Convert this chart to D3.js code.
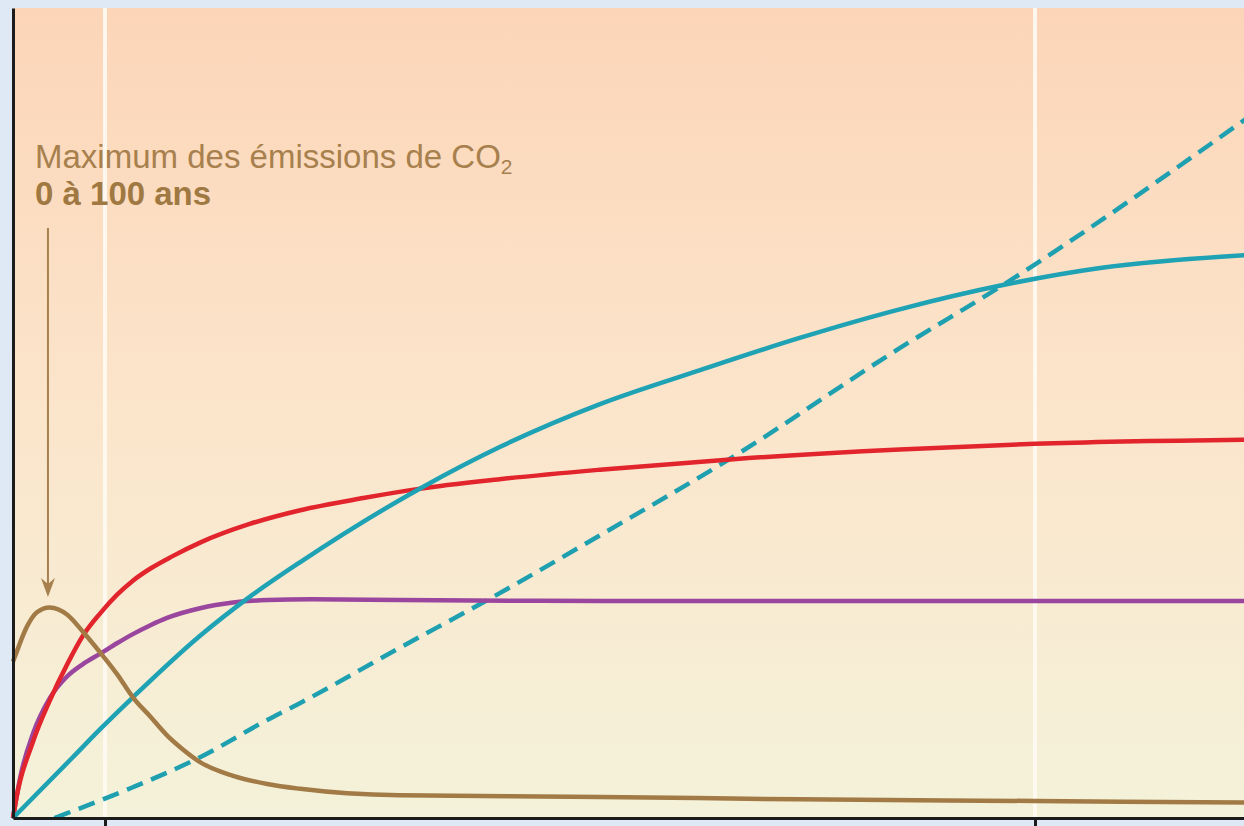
<!DOCTYPE html>
<html>
<head>
<meta charset="utf-8">
<script src="https://cdn.jsdelivr.net/npm/d3@7"></script>
<style>
  html, body { margin: 0; padding: 0; background: #dfe9f6; }
  svg { display: block; }
</style>
</head>
<body>
<div id="chart"></div>
<script>
// Données : [temps (ans), valeur relative]
var emissionsCO2 = [[0,19.3],[2,19.9],[15,23.6],[26,25.4],[40,26.0],[59,25.1],[76,23.0],[95,20.4],[112,17.7],[127,14.9],[144,12.5],[160,10.2],[176,8.4],[192,6.9],[224,5.2],[257,4.2],[289,3.6],[385,2.8],[579,2.6],[773,2.3],[1000,2.1],[1205,1.9]];
var courbeRouge = [[0,0],[2,1.4],[22,9.5],[40,14.5],[59,19.0],[76,22.5],[95,25.3],[112,27.6],[127,29.3],[144,30.8],[165,32.3],[192,34.0],[240,36.3],[289,38.0],[350,39.5],[402,40.6],[480,41.8],[579,43.0],[708,44.3],[869,45.5],[1000,46.2],[1205,46.7]];
var courbeViolette = [[0,0],[8,5.1],[22,10.5],[40,14.8],[59,17.5],[76,19.0],[95,20.3],[112,21.6],[127,22.7],[144,23.8],[160,24.7],[192,25.9],[224,26.6],[257,26.9],[300,27.0],[385,26.9],[579,26.8],[1000,26.8],[1205,26.8]];
var courbeCyan = [[0,0],[65,7.5],[95,11.0],[127,14.9],[192,22.5],[240,27.3],[289,31.6],[408,40.9],[482,45.8],[579,51.1],[676,55.3],[773,59.3],[869,62.8],[969,65.8],[1063,67.9],[1205,69.5]];
var courbeTirets = [[45,0],[59,0.6],[127,3.8],[192,7.5],[257,12.1],[289,14.2],[385,21.0],[470,26.9],[579,34.9],[708,44.6],[869,58.0],[969,65.8],[1205,86.4]];

var repereAns = [100, 1000];

var svgWidth = 1244, svgHeight = 826;
var margin = {top: 8, right: 0, bottom: 8, left: 13};
var width = svgWidth - margin.left - margin.right;
var height = svgHeight - margin.top - margin.bottom;

// Echelle X par morceaux (la figure n'est pas linéaire)
var xScale = d3.scaleLinear()
    .domain([0, 100, 1000, 1205])
    .range([0, 92, 1022, 1234]);

var yScale = d3.scaleLinear()
    .domain([0, 100])
    .range([height, 0]);

var svg = d3.select("#chart")
    .append("svg")
    .attr("width", svgWidth)
    .attr("height", svgHeight);

var defs = svg.append("defs");
var grad = defs.append("linearGradient")
    .attr("id", "fond")
    .attr("x1", 0).attr("y1", 0).attr("x2", 0).attr("y2", 1);
grad.append("stop").attr("offset", "0%").attr("stop-color", "#fcd5b8");
grad.append("stop").attr("offset", "50%").attr("stop-color", "#fbe5cb");
grad.append("stop").attr("offset", "100%").attr("stop-color", "#f4f2da");

var g = svg.append("g")
    .attr("transform", "translate(" + margin.left + "," + margin.top + ")");

// Fond dégradé
g.append("rect")
    .attr("width", width)
    .attr("height", height)
    .attr("fill", "url(#fond)");

// Lignes blanches verticales
g.selectAll(".repere")
    .data(repereAns)
    .enter().append("line")
    .attr("class", "repere")
    .attr("x1", function(d) { return xScale(d); })
    .attr("x2", function(d) { return xScale(d); })
    .attr("y1", 0)
    .attr("y2", height)
    .attr("stroke", "#fffbf3")
    .attr("stroke-width", 4)
    .attr("opacity", 0.9);

var line = d3.line()
    .x(function(d) { return xScale(d[0]); })
    .y(function(d) { return yScale(d[1]); })
    .curve(d3.curveMonotoneX);

var series = [
  {data: courbeTirets, color: "#1fa0b0", dash: "17,9"},
  {data: courbeViolette, color: "#9b469e"},
  {data: courbeRouge, color: "#e2242d"},
  {data: courbeCyan, color: "#1ea2b4"},
  {data: emissionsCO2, color: "#a27a45"}
];

series.forEach(function(s) {
  g.append("path")
      .datum(s.data)
      .attr("d", line)
      .attr("fill", "none")
      .attr("stroke", s.color)
      .attr("stroke-width", 4.5)
      .attr("stroke-dasharray", s.dash || null);
});

// Annotation
var annot = g.append("text")
    .attr("x", 22)
    .attr("y", 160)
    .style("font-family", "'Liberation Sans', Arial, sans-serif")
    .style("font-size", "33px")
    .style("fill", "#a7804d");
annot.append("tspan").text("Maximum des émissions de CO");
annot.append("tspan").attr("dy", 6).style("font-size", "21px").text("2");

g.append("text")
    .attr("x", 22)
    .attr("y", 197)
    .style("font-family", "'Liberation Sans', Arial, sans-serif")
    .style("font-size", "33px")
    .style("font-weight", "bold")
    .style("fill", "#9f7842")
    .text("0 à 100 ans");

// Flèche
var xFleche = xScale(38);
g.append("line")
    .attr("x1", xFleche).attr("x2", xFleche)
    .attr("y1", 220).attr("y2", 580)
    .attr("stroke", "#a7804d")
    .attr("stroke-width", 2);
g.append("path")
    .attr("d", "M" + (xFleche - 7) + ",570 L" + xFleche + ",589 L" + (xFleche + 7) + ",570 L" + xFleche + ",576 Z")
    .attr("fill", "#a7804d");

// Axes
var axeX = g.append("g")
    .attr("transform", "translate(0," + height + ")")
    .call(d3.axisBottom(xScale).tickValues(repereAns).tickFormat("").tickSize(9).tickSizeOuter(0));

var axeY = g.append("g")
    .call(d3.axisLeft(yScale).tickValues([]).tickSizeOuter(0));

g.selectAll(".domain, .tick line")
    .attr("stroke", "#1c1c1c")
    .attr("stroke-width", 3);
</script>
</body>
</html>
